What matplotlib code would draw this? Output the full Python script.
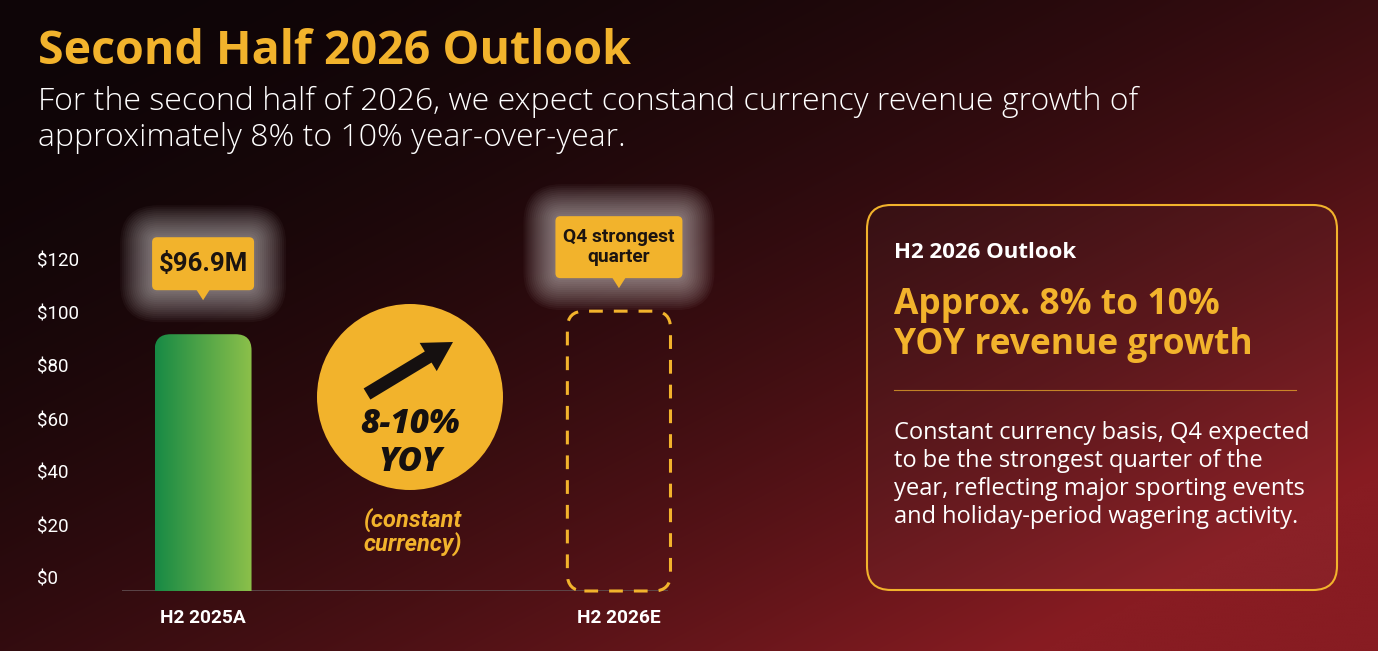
import numpy as np
import matplotlib.pyplot as plt
from matplotlib.patches import FancyBboxPatch, Circle, Polygon, FancyArrow
from matplotlib.transforms import ScaledTranslation
from matplotlib.colors import LinearSegmentedColormap

W, H = 1378, 651

# chart data
categories = ["H2 2025A", "H2 2026E"]
revenue = [96.9, 105.6]          # second value = dashed estimate outline
y_ticks = [0, 20, 40, 60, 80, 100, 120]
y_labels = ["$0", "$20", "$40", "$60", "$80", "$100", "$120"]
bar_label = "$96.9M"
est_label = "Q4 strongest\nquarter"

title = "Second Half 2026 Outlook"
subtitle = ("For the second half of 2026, we expect constand currency revenue growth of\n"
            "approximately 8% to 10% year-over-year.")
panel_head = "H2 2026 Outlook"
panel_big = "Approx. 8% to 10%\nYOY revenue growth"
panel_body = ("Constant currency basis, Q4 expected\n"
              "to be the strongest quarter of the\n"
              "year, reflecting major sporting events\n"
              "and holiday-period wagering activity.")

YELLOW = "#f2b32c"
HEAD_FONT = "Open Sans"
CHART_FONT = "Roboto"

fig = plt.figure(figsize=(W / 100, H / 100), dpi=100)

# Background gradient: near black top-left to dark red bottom-right
bg = fig.add_axes([0, 0, 1, 1], zorder=-10)
gx, gy = np.meshgrid(np.linspace(0, 1, 460), np.linspace(0, 1, 220))
t = np.clip(0.6 * gx + 0.55 * gy, 0, 1) ** 2
c0 = np.array([14, 5, 7]) / 255
c1 = np.array([136, 28, 34]) / 255
img = c0 + (c1 - c0) * t[..., None]
bg.imshow(img, aspect="auto", extent=(0, 1, 0, 1), interpolation="bicubic")
bg.axis("off")

# Chart axes (baseline at y=591px, 2.65 px per $1M)
ax_left, ax_right, base_px = 122, 668, 591
ymax = 135
top_px = base_px - ymax * 2.65
ax = fig.add_axes([ax_left / W, (H - base_px) / H,
                   (ax_right - ax_left) / W, (base_px - top_px) / H])
ax.set_facecolor("none")
x = np.arange(len(categories))
ax.set_xlim(-0.195, 1.118)
ax.set_ylim(0, ymax)
for s in ax.spines.values():
    s.set_visible(False)
ax.axhline(0, color="#5e4a4c", lw=1.3, zorder=1)

ax.set_yticks(y_ticks)
ax.set_yticklabels(y_labels, fontsize=13.5, color="white", family=CHART_FONT, ha="left")
ax.tick_params(axis="y", length=0, pad=61)
up = ScaledTranslation(0, 13 / 100, fig.dpi_scale_trans)
for lbl in ax.get_yticklabels():
    lbl.set_transform(lbl.get_transform() + up)

ax.set_xticks(x)
ax.set_xticklabels(categories, fontsize=13.8, color="white", family=CHART_FONT,
                   fontweight="bold")
ax.tick_params(axis="x", length=0, pad=13)

# rounding in x units, aspect fix so corners are round in pixels
px_x = (ax_right - ax_left) / (1.118 + 0.195)
px_y = 2.65
asp = px_x / px_y

# Actual bar with green gradient and rounded top
bw = 0.233
bars = ax.bar(x[:1], revenue[:1], width=bw, color="none", zorder=2)
b = bars[0]
bx0, bh = b.get_x(), b.get_height()
shape = FancyBboxPatch((bx0, -20), bw, bh + 20,
                       boxstyle=f"round,pad=0,rounding_size={16 / px_x}",
                       mutation_aspect=asp, fc="none", ec="none")
ax.add_patch(shape)
grad = np.linspace(0, 1, 256)[None, :]
gcm = LinearSegmentedColormap.from_list("g", ["#178a45", "#8cc04a"])
im = ax.imshow(grad, cmap=gcm, aspect="auto", extent=(bx0, bx0 + bw, 0, bh), zorder=2)
im.set_clip_path(shape)

# Dashed estimate outline
ew = 0.248
dash = FancyBboxPatch((x[1] - ew / 2, 0), ew, revenue[1],
                      boxstyle=f"round,pad=0,rounding_size={17 / px_x}",
                      mutation_aspect=asp, fc="none", ec=YELLOW, lw=2.2,
                      ls=(0, (4.5, 3.6)), clip_on=False, zorder=3)
ax.add_patch(dash)

ax.set_xlim(-0.195, 1.118)
ax.set_ylim(0, ymax)

# Overlay axes in pixel coordinates
ov = fig.add_axes([0, 0, 1, 1], zorder=5)
ov.set_xlim(0, W)
ov.set_ylim(H, 0)
ov.axis("off")
ov.set_facecolor("none")


def to_px(xd, yd):
    dx, dy = ax.transData.transform((xd, yd))
    return dx, H - dy


def callout(tip, gap, w, h, text, fs):
    tx, ty = tip[0], tip[1] - gap
    ph = 10
    x0, y1 = tx - w / 2, ty - ph
    y0 = y1 - h
    for i in range(16):
        p = 2 + 2.0 * i
        ov.add_patch(FancyBboxPatch((x0 - p, y0 - p), w + 2 * p, h + 2 * p,
                                    boxstyle=f"round,pad=0,rounding_size={6 + p}",
                                    fc="white", ec="none", alpha=0.034))
    ov.add_patch(FancyBboxPatch((x0, y0), w, h, boxstyle="round,pad=0,rounding_size=5",
                                fc=YELLOW, ec="none"))
    ov.add_patch(Polygon([(tx - 7, y1 - 1), (tx + 7, y1 - 1), (tx, ty)],
                         closed=True, fc=YELLOW, ec="none"))
    ov.text(tx, y0 + h / 2, text, ha="center", va="center", fontsize=fs,
            fontweight="bold", color="#1c1410", family=CHART_FONT, linespacing=1.1)


callout(to_px(x[0], revenue[0]), 34, 102, 53, bar_label, 18.5)
callout(to_px(x[1], revenue[1]), 23, 127, 62, est_label, 13.8)

# Growth badge
ov.add_patch(Circle((410, 397), 93, fc=YELLOW, ec="none"))
ov.add_patch(FancyArrow(367, 394, 86, -52, width=13, head_width=33, head_length=29,
                        length_includes_head=True, fc="#151010", ec="none"))
ov.text(410, 424, "8-10%", ha="center", va="center", fontsize=24, fontweight="heavy",
        style="italic", color="#151010", family=HEAD_FONT)
ov.text(410, 462, "YOY", ha="center", va="center", fontsize=24, fontweight="heavy",
        style="italic", color="#151010", family=HEAD_FONT)
ov.text(413, 532, "(constant\ncurrency)", ha="center", va="center", fontsize=17,
        fontweight="bold", style="italic", color=YELLOW, family=CHART_FONT,
        linespacing=0.95)

# Title and subtitle
ov.text(38, 52, title, ha="left", va="center", fontsize=33.5, fontweight="bold",
        color=YELLOW, family=HEAD_FONT)
ov.text(38, 120, subtitle, ha="left", va="center", fontsize=23, fontweight="light",
        color="white", family=HEAD_FONT, linespacing=1.2)

# Right summary panel
ov.add_patch(FancyBboxPatch((867, 205), 470, 385, boxstyle="round,pad=0,rounding_size=24",
                            fc=(1, 1, 1, 0.025), ec=YELLOW, lw=1.5))
ov.text(894, 253, panel_head, ha="left", va="center", fontsize=16, fontweight="bold",
        color="white", family=HEAD_FONT)
ov.text(894, 325, panel_big, ha="left", va="center", fontsize=25.5, fontweight="bold",
        color=YELLOW, family=HEAD_FONT, linespacing=1.15)
ov.plot([894, 1296], [390, 390], color=YELLOW, lw=0.8, alpha=0.7)
ov.text(894, 475, panel_body, ha="left", va="center", fontsize=17, color="white",
        family=HEAD_FONT, linespacing=1.24)

fig.savefig("out.png", dpi=100)
